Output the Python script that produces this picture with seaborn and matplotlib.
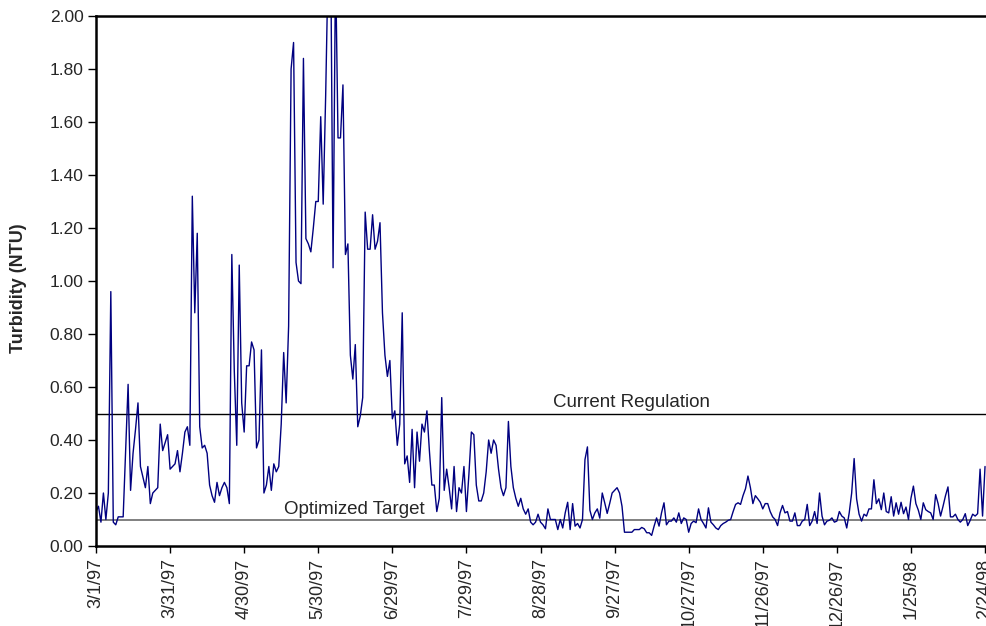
import numpy as np
import pandas as pd
import matplotlib
matplotlib.use("Agg")
import matplotlib.pyplot as plt
from matplotlib.ticker import FormatStrFormatter
import seaborn as sns

# Daily turbidity readings (NTU), starting 3/1/97
start_date = "1997-03-01"
turbidity = [
    0.13, 0.15, 0.09, 0.20, 0.10, 0.20, 0.96, 0.09, 0.08, 0.11,
    0.11, 0.11, 0.36, 0.61, 0.21, 0.35, 0.44, 0.54, 0.30, 0.26,
    0.22, 0.30, 0.16, 0.20, 0.21, 0.22, 0.46, 0.36, 0.39, 0.42,
    0.29, 0.30, 0.31, 0.36, 0.28, 0.35, 0.43, 0.45, 0.38, 1.32,
    0.88, 1.18, 0.45, 0.37, 0.38, 0.35, 0.23, 0.19, 0.165, 0.24,
    0.19, 0.22, 0.24, 0.22, 0.16, 1.10, 0.66, 0.38, 1.06, 0.54,
    0.43, 0.68, 0.68, 0.77, 0.74, 0.37, 0.40, 0.74, 0.20, 0.23,
    0.30, 0.21, 0.31, 0.28, 0.30, 0.46, 0.73, 0.54, 0.83, 1.80,
    1.90, 1.07, 1.00, 0.99, 1.84, 1.16, 1.14, 1.11, 1.20, 1.30,
    1.30, 1.62, 1.29, 1.70, 2.20, 2.30, 1.05, 2.20, 1.54, 1.54,
    1.74, 1.10, 1.14, 0.72, 0.63, 0.76, 0.45, 0.49, 0.56, 1.26,
    1.12, 1.12, 1.25, 1.12, 1.15, 1.22, 0.88, 0.72, 0.64, 0.70,
    0.48, 0.51, 0.38, 0.46, 0.88, 0.31, 0.34, 0.24, 0.44, 0.22,
    0.43, 0.32, 0.46, 0.43, 0.51, 0.36, 0.23, 0.23, 0.13, 0.18,
    0.56, 0.21, 0.29, 0.22, 0.14, 0.30, 0.13, 0.22, 0.20, 0.30,
    0.13, 0.27, 0.43, 0.42, 0.23, 0.17, 0.17, 0.20, 0.28, 0.40,
    0.35, 0.40, 0.38, 0.29, 0.22, 0.19, 0.22, 0.47, 0.30, 0.22,
    0.18, 0.15, 0.18, 0.14, 0.12, 0.14, 0.09, 0.08, 0.09, 0.12,
    0.09, 0.08, 0.065, 0.14, 0.10, 0.10, 0.10, 0.062, 0.10, 0.068,
    0.125, 0.165, 0.062, 0.16, 0.075, 0.085, 0.068, 0.10, 0.326, 0.374,
    0.135, 0.10, 0.125, 0.14, 0.105, 0.20, 0.163, 0.123, 0.16, 0.20,
    0.21, 0.22, 0.20, 0.15, 0.052, 0.052, 0.052, 0.052, 0.062, 0.062,
    0.062, 0.07, 0.065, 0.05, 0.05, 0.04, 0.075, 0.106, 0.075, 0.125,
    0.163, 0.08, 0.094, 0.094, 0.106, 0.09, 0.125, 0.085, 0.106, 0.10,
    0.052, 0.085, 0.094, 0.088, 0.14, 0.10, 0.085, 0.068, 0.144, 0.09,
    0.08, 0.068, 0.062, 0.077, 0.085, 0.09, 0.097, 0.10, 0.13, 0.157,
    0.163, 0.157, 0.19, 0.216, 0.264, 0.22, 0.16, 0.19, 0.178, 0.165,
    0.14, 0.16, 0.16, 0.13, 0.11, 0.10, 0.077, 0.125, 0.153, 0.125,
    0.13, 0.094, 0.094, 0.125, 0.077, 0.077, 0.094, 0.10, 0.157, 0.077,
    0.094, 0.13, 0.085, 0.20, 0.113, 0.08, 0.094, 0.097, 0.106, 0.09,
    0.094, 0.13, 0.113, 0.106, 0.068, 0.125, 0.20, 0.33, 0.178, 0.12,
    0.094, 0.12, 0.113, 0.14, 0.14, 0.25, 0.16, 0.178, 0.137, 0.20,
    0.13, 0.125, 0.186, 0.113, 0.163, 0.12, 0.165, 0.122, 0.147, 0.10,
    0.18, 0.226, 0.16, 0.135, 0.10, 0.163, 0.137, 0.13, 0.125, 0.10,
    0.194, 0.16, 0.113, 0.15, 0.19, 0.223, 0.11, 0.11, 0.12, 0.10,
    0.09, 0.10, 0.122, 0.077, 0.097, 0.12, 0.113, 0.122, 0.29, 0.113,
    0.30,
]

tick_labels = ["3/1/97", "3/31/97", "4/30/97", "5/30/97", "6/29/97",
               "7/29/97", "8/28/97", "9/27/97", "10/27/97", "11/26/97",
               "12/26/97", "1/25/98", "2/24/98"]
y_ticks = [0.0, 0.2, 0.4, 0.6, 0.8, 1.0, 1.2, 1.4, 1.6, 1.8, 2.0]

current_regulation = 0.5
optimized_target = 0.1

sns.set_style("ticks")
plt.rcParams["font.family"] = ["Liberation Sans", "DejaVu Sans"]

dates = pd.date_range(start_date, periods=len(turbidity), freq="D")
df = pd.DataFrame({"date": dates, "turbidity": turbidity})

fig = plt.figure(figsize=(9.87, 6.26), dpi=100)
ax = fig.add_axes([96 / 987, 80 / 626, 891 / 987, 530 / 626])

# Reference levels
ax.axhline(current_regulation, color="black", lw=1.0, zorder=1)
ax.axhline(optimized_target, color="#808080", lw=1.4, zorder=1)

sns.lineplot(data=df, x="date", y="turbidity", color="#000080",
             linewidth=1.0, ax=ax, zorder=2)

x0 = dates[0]
ax.set_xlim(x0, x0 + pd.Timedelta(days=360.8))
ax.set_ylim(0, 2)

tick_dates = pd.to_datetime(tick_labels, format="%m/%d/%y")
ax.set_xticks(tick_dates)
ax.set_xticklabels(tick_labels, rotation=90, fontsize=13)
ax.set_yticks(y_ticks)
ax.yaxis.set_major_formatter(FormatStrFormatter("%.2f"))
ax.tick_params(axis="y", labelsize=12.5, direction="out", length=6, width=1,
               color="black", pad=3)
ax.tick_params(axis="x", direction="out", length=5, width=1,
               color="black", pad=4)

ax.set_xlabel("")
ax.set_ylabel("Turbidity (NTU)", fontsize=13, fontweight="bold")
ax.yaxis.set_label_coords(-0.0774, 0.486)

for side in ("left", "top", "bottom"):
    ax.spines[side].set_linewidth(1.8)
    ax.spines[side].set_color("black")
ax.spines["right"].set_visible(False)

ax.text((x0 + pd.Timedelta(days=216.8)).to_pydatetime(), 0.526,
        "Current Regulation", ha="center", va="baseline", fontsize=13.5)
ax.text((x0 + pd.Timedelta(days=104.8)).to_pydatetime(), 0.12,
        "Optimized Target", ha="center", va="baseline", fontsize=13.5)

fig.savefig("out.png", dpi=100)
